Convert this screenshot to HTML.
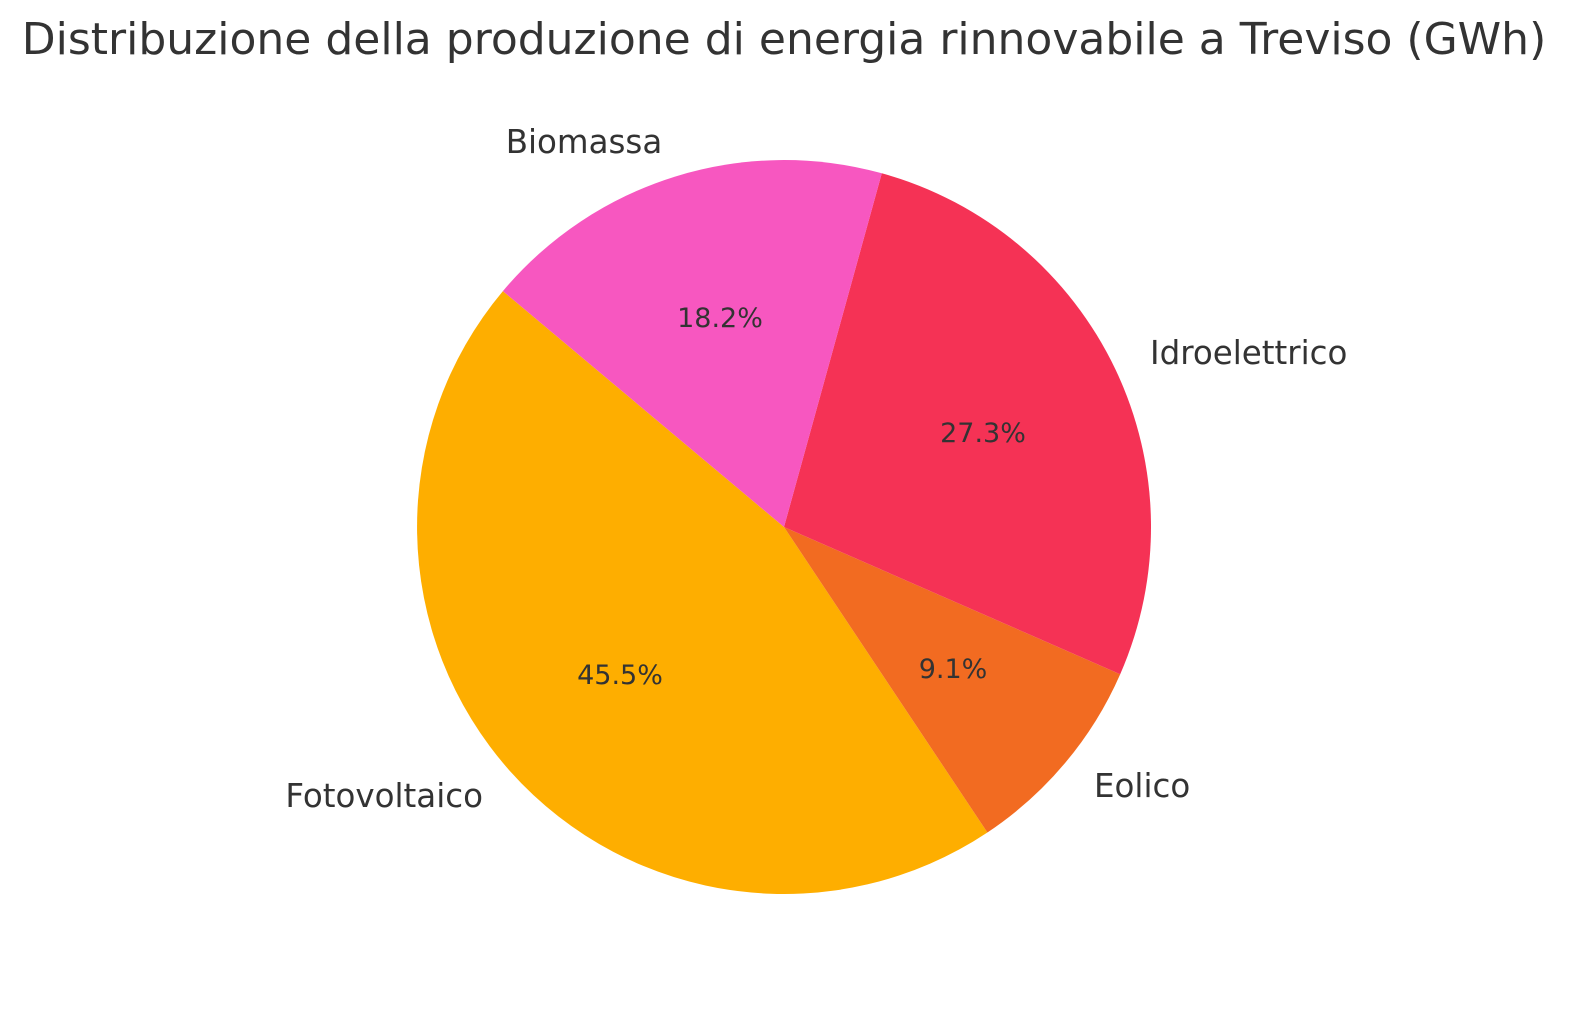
<!DOCTYPE html>
<html><head><meta charset="utf-8"><style>
html,body{margin:0;padding:0;background:#fff;}
svg text{font-family:"DejaVu Sans","Liberation Sans",sans-serif;fill:#333;}
</style></head><body>
<svg width="1580" height="1014" viewBox="0 0 1580 1014" xmlns="http://www.w3.org/2000/svg">
<rect width="1580" height="1014" fill="#fff"/>
<text x="784" y="54" font-size="44" text-anchor="middle">Distribuzione della produzione di energia rinnovabile a Treviso (GWh)</text>
<g>
<path d="M784,527 L502.9,291.1 A367,367 0 0 0 987.4,832.5 Z" fill="#FEAE00"/>
<path d="M784,527 L987.4,832.5 A367,367 0 0 0 1120.2,674.2 Z" fill="#F26B21"/>
<path d="M784,527 L1120.2,674.2 A367,367 0 0 0 881.8,173.3 Z" fill="#F53255"/>
<path d="M784,527 L881.8,173.3 A367,367 0 0 0 502.9,291.1 Z" fill="#F757C0"/>
</g>
<g font-size="32.5">
<text x="584" y="153" text-anchor="middle">Biomassa</text>
<text x="1150" y="364">Idroelettrico</text>
<text x="1094" y="797">Eolico</text>
<text x="483" y="807" text-anchor="end">Fotovoltaico</text>
</g>
<g font-size="27" text-anchor="middle">
<text x="720" y="327">18.2%</text>
<text x="983" y="442">27.3%</text>
<text x="953" y="678">9.1%</text>
<text x="620" y="684">45.5%</text>
</g>
</svg>
</body></html>
